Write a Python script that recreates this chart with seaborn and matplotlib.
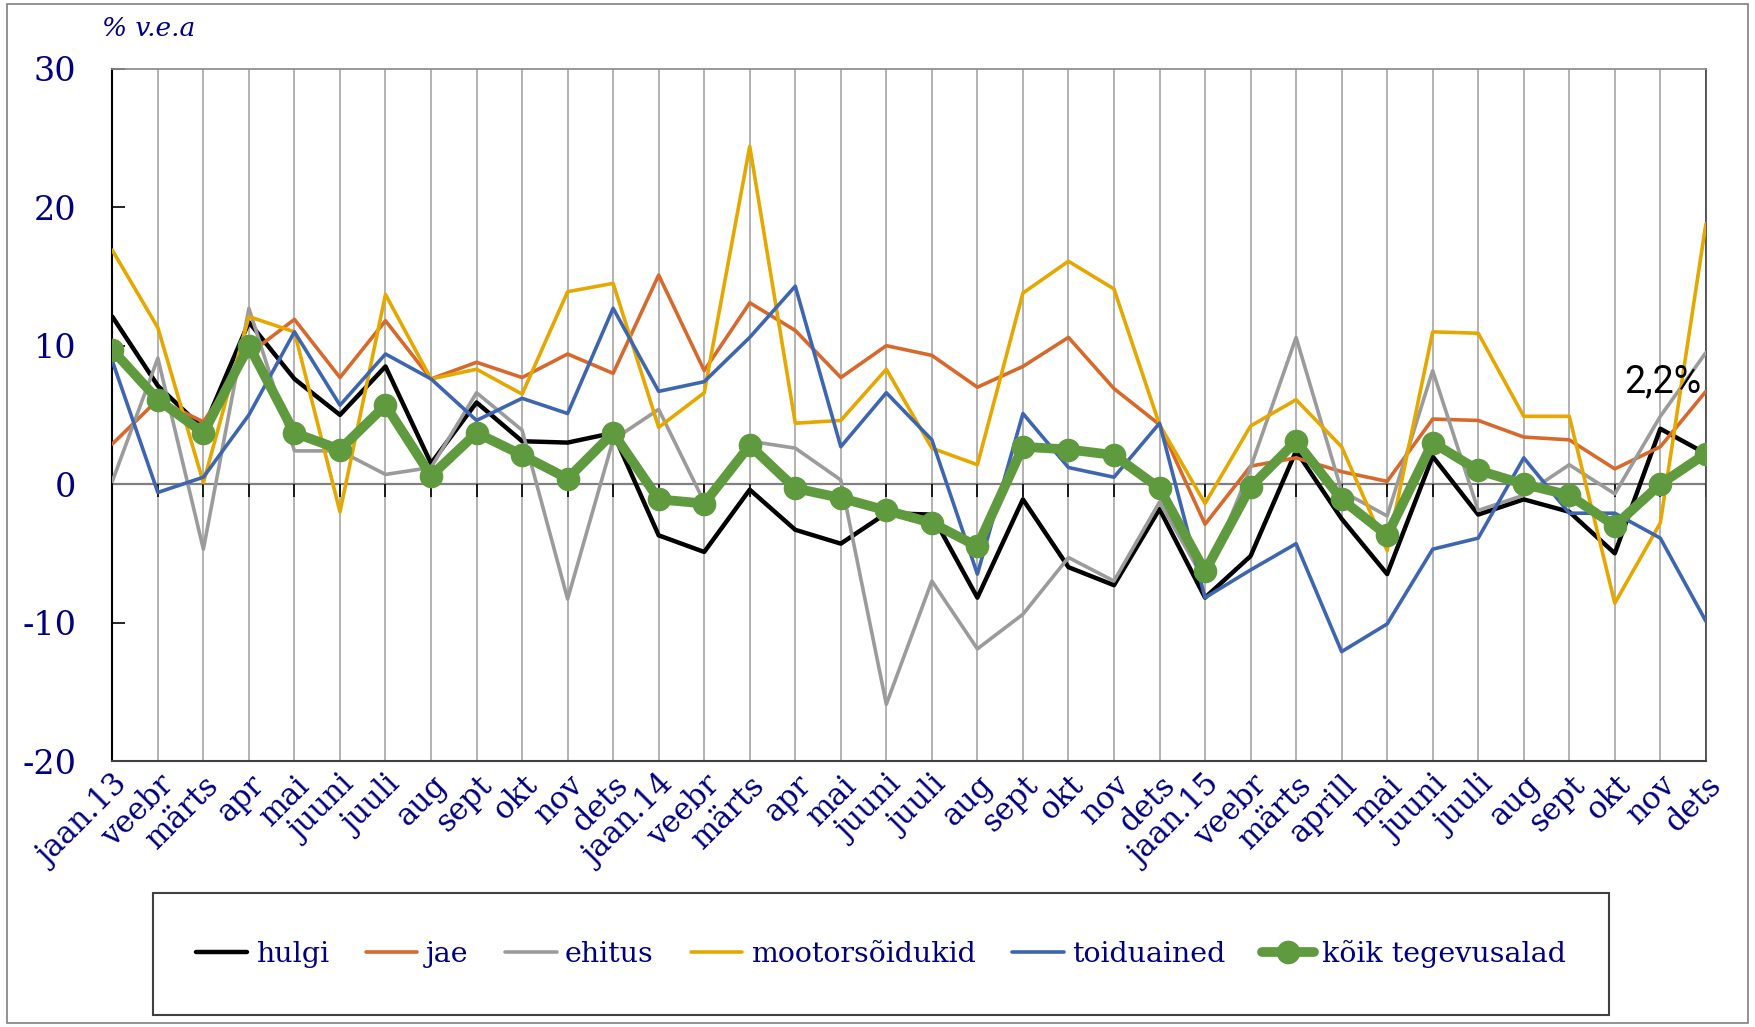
import numpy as np
import pandas as pd
import matplotlib
matplotlib.use("Agg")
import matplotlib.pyplot as plt
from matplotlib.patches import Rectangle
import seaborn as sns

# kuud (x-telg)
months = ["jaan.13", "veebr", "märts", "apr", "mai", "juuni", "juuli", "aug", "sept", "okt", "nov", "dets",
          "jaan.14", "veebr", "märts", "apr", "mai", "juuni", "juuli", "aug", "sept", "okt", "nov", "dets",
          "jaan.15", "veebr", "märts", "aprill", "mai", "juuni", "juuli", "aug", "sept", "okt", "nov", "dets"]

# % v.e.a, loetud jooniselt
hulgi = [12.1, 7.1, 4.0, 11.7, 7.6, 5.0, 8.5, 1.5, 5.9, 3.1, 3.0, 3.7,
         -3.7, -4.9, -0.4, -3.3, -4.3, -2.1, -2.2, -8.2, -1.1, -6.0, -7.3, -1.8,
         -8.2, -5.2, 2.4, -2.5, -6.5, 2.0, -2.2, -1.1, -2.0, -5.0, 4.0, 2.2]
jae = [2.9, 6.1, 4.5, 9.4, 11.9, 7.7, 11.8, 7.6, 8.8, 7.7, 9.4, 8.0,
       15.1, 8.2, 13.1, 11.1, 7.7, 10.0, 9.3, 7.0, 8.5, 10.6, 6.9, 4.3,
       -2.9, 1.3, 1.9, 0.9, 0.2, 4.7, 4.6, 3.4, 3.2, 1.1, 2.7, 6.7]
ehitus = [0.2, 9.1, -4.7, 12.7, 2.4, 2.4, 0.7, 1.2, 6.6, 3.9, -8.3, 3.2,
          5.4, -1.3, 3.1, 2.6, 0.3, -15.9, -7.0, -11.9, -9.4, -5.3, -7.0, -1.3,
          -7.0, 1.2, 10.6, -0.5, -2.3, 8.2, -1.9, -0.8, 1.4, -0.7, 4.9, 9.5]
mootor = [16.9, 11.3, 0.1, 12.1, 11.0, -2.0, 13.7, 7.6, 8.3, 6.5, 13.9, 14.5,
          4.1, 6.6, 24.4, 4.4, 4.6, 8.3, 2.6, 1.4, 13.8, 16.1, 14.1, 4.3,
          -1.4, 4.2, 6.1, 2.7, -4.8, 11.0, 10.9, 4.9, 4.9, -8.6, -2.8, 18.8]
toit = [8.9, -0.6, 0.5, 5.0, 11.0, 5.7, 9.4, 7.6, 4.6, 6.2, 5.1, 12.7,
        6.7, 7.4, 10.6, 14.3, 2.7, 6.6, 3.2, -6.5, 5.1, 1.2, 0.5, 4.4,
        -8.2, -6.2, -4.3, -12.1, -10.1, -4.7, -3.9, 1.9, -2.1, -2.1, -3.9, -9.9]
koik = [9.7, 6.1, 3.7, 10.0, 3.7, 2.5, 5.7, 0.6, 3.7, 2.1, 0.4, 3.7,
        -1.1, -1.4, 2.8, -0.3, -1.0, -1.9, -2.8, -4.5, 2.7, 2.5, 2.1, -0.3,
        -6.3, -0.2, 3.1, -1.1, -3.7, 3.0, 1.0, 0.0, -0.8, -3.0, 0.0, 2.2]

series = {
    "hulgi": (hulgi, "#000000", 3.2),
    "jae": (jae, "#D8692C", 2.6),
    "ehitus": (ehitus, "#9B9B9B", 2.6),
    "mootorsõidukid": (mootor, "#E5A800", 2.6),
    "toiduained": (toit, "#3E66B0", 2.6),
}

navy = "#000080"
x = np.arange(len(months))

sns.set_theme(style="white")
plt.rcParams["font.family"] = ["DejaVu Serif", "DejaVu Sans"]
plt.rcParams["axes.unicode_minus"] = False

fig = plt.figure(figsize=(17.55, 10.27), dpi=100)
ax = fig.add_axes([0.064, 0.259, 0.908, 0.674])

for name, (vals, col, lw) in series.items():
    df = pd.DataFrame({"x": x, "y": vals})
    sns.lineplot(data=df, x="x", y="y", ax=ax, color=col, lw=lw, label=name, zorder=3)

df = pd.DataFrame({"x": x, "y": koik})
sns.lineplot(data=df, x="x", y="y", ax=ax, color="#5F9A3E", lw=7, marker="o", markersize=17,
             markeredgewidth=0, label="kõik tegevusalad", zorder=4)

ax.set_xlim(0, len(months) - 1)
ax.set_ylim(-20, 30)
ax.set_yticks([-20, -10, 0, 10, 20, 30])
ax.set_xticks(x)
ax.set_xticklabels(months, rotation=45, ha="right", rotation_mode="anchor",
                   fontsize=22, color=navy)
ax.tick_params(axis="x", length=0, pad=6)
ax.tick_params(axis="y", direction="in", length=9, width=1.2, color="black",
               labelsize=24, labelcolor=navy, pad=26, left=True)
ax.set_xlabel("")
ax.set_ylabel("")

ax.grid(axis="x", color="#A6A6A6", lw=1.2)
ax.grid(axis="y", visible=False)
ax.axhline(0, color="#7F7F7F", lw=1.6, zorder=2)
ax.vlines(x, -0.9, 0, color="black", lw=1.2, zorder=2)

ax.spines["left"].set_color("black")
ax.spines["left"].set_linewidth(1.5)
ax.spines["bottom"].set_color("#404040")
ax.spines["bottom"].set_linewidth(1.5)
ax.spines["top"].set_color("#8C8C8C")
ax.spines["right"].set_color("#404040")
ax.spines["right"].set_linewidth(1.2)

ax.text(34.05, 7.4, "2,2%", ha="center", va="center", fontsize=27, color="black",
        family=["Liberation Sans Narrow", "Roboto", "DejaVu Sans"])
fig.text(0.058, 0.972, "% v.e.a", fontsize=19, style="italic", color=navy, ha="left", va="center")

# legend box
handles, labels = ax.get_legend_handles_labels()
ax.get_legend().remove()
fig.patches.append(Rectangle((0.087, 0.012), 0.830, 0.118, transform=fig.transFigure,
                             fill=False, edgecolor="#404040", lw=1.5))
leg = fig.legend(handles, labels, loc="center", bbox_to_anchor=(0.502, 0.071), ncol=6,
                 frameon=False, fontsize=20.5, handlelength=1.8, columnspacing=1.3,
                 handletextpad=0.3, labelcolor=navy)

fig.patches.append(Rectangle((0.004, 0.004), 0.992, 0.992, transform=fig.transFigure,
                             fill=False, edgecolor="#808080", lw=1.2))

fig.savefig("out.png", dpi=100)
